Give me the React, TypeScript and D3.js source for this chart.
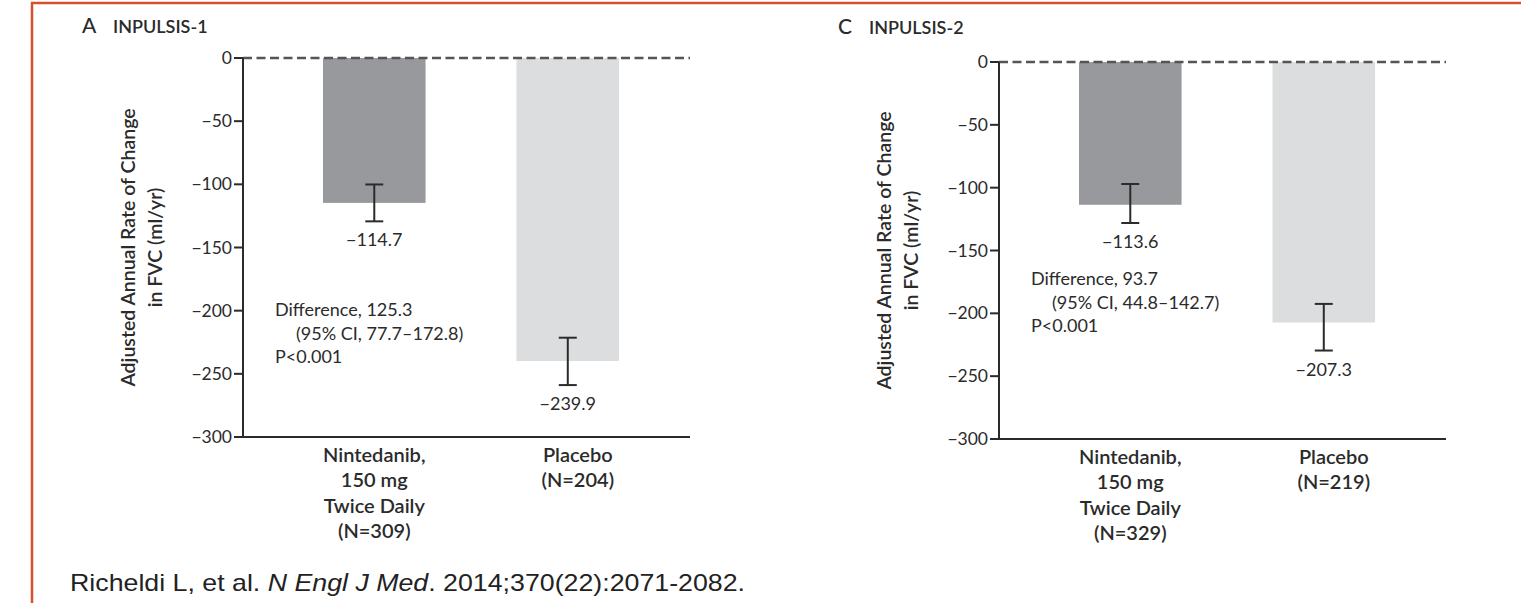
import * as d3 from "d3";

// ---- data ----
const categories = ["Nintedanib", "Placebo"];
const yTicks = [0, -50, -100, -150, -200, -250, -300];

const labels1 = [["Nintedanib,", "150 mg", "Twice Daily", "(N=309)"], ["Placebo", "(N=204)"]];
const values1 = [-114.7, -239.9];
const ciHigh1 = [-100.1, -221.4];
const ciLow1 = [-129.3, -258.9];
const diff1 = ["Difference, 125.3", "(95% CI, 77.7–172.8)", "P<0.001"];

const labels2 = [["Nintedanib,", "150 mg", "Twice Daily", "(N=329)"], ["Placebo", "(N=219)"]];
const values2 = [-113.6, -207.3];
const ciHigh2 = [-97.1, -192.5];
const ciLow2 = [-128.1, -229.6];
const diff2 = ["Difference, 93.7", "(95% CI, 44.8–142.7)", "P<0.001"];

const barColors = ["#98999c", "#dcdddf"];
const labelNudge = [0, 10];
const ink = "#2b2b2b";
const font = "Lato, 'Open Sans', sans-serif";

type PanelProps = {
  letter: string;
  title: string;
  labels: string[][];
  values: number[];
  hi: number[];
  lo: number[];
  diff: string[];
  left: number;
  top: number;
  bottom: number;
  titleY: number;
  diffAt: number;
};

function Panel({ letter, title, labels, values, hi, lo, diff, left, top, bottom, titleY, diffAt }: PanelProps) {
  const right = left + 447;
  const y = d3.scaleLinear().domain([0, -300]).range([top, bottom]);
  const x = d3.scaleBand().domain(categories).range([left, right]).paddingInner(0.47).paddingOuter(0.39).align(0.53);
  const mid = (top + bottom) / 2;

  return (
    <g fontFamily={font} fill={ink}>
      <text x={left - 161} y={titleY} fontSize={21} fontWeight={500}>{letter}</text>
      <text x={left - 130} y={titleY} fontSize={18} fontWeight={600}>{title}</text>

      <g transform={`translate(${left - 108},${mid}) rotate(-90)`} fontSize={19.5} fontWeight={600} textAnchor="middle">
        <text y={0}>Adjusted Annual Rate of Change</text>
        <text y={27}>in FVC (ml/yr)</text>
      </g>

      {categories.map((c, i) => {
        const bx = x(c)!;
        const cx = bx + x.bandwidth() / 2;
        const v = values[i];
        return (
          <g key={c}>
            <rect x={bx} y={y(0)} width={x.bandwidth()} height={y(v) - y(0)} fill={barColors[i]} />
            <line x1={cx} x2={cx} y1={y(hi[i])} y2={y(lo[i])} stroke={ink} strokeWidth={2} />
            <line x1={cx - 9} x2={cx + 9} y1={y(hi[i])} y2={y(hi[i])} stroke={ink} strokeWidth={2} />
            <line x1={cx - 9} x2={cx + 9} y1={y(lo[i])} y2={y(lo[i])} stroke={ink} strokeWidth={2} />
            <text x={cx} y={y(lo[i]) + 25} fontSize={18} textAnchor="middle">{"\u2212" + Math.abs(v).toFixed(1)}</text>
            {labels[i].map((t, j) => (
              <text key={j} x={cx + labelNudge[i]} y={bottom + 24.5 + j * 25.5} fontSize={20} fontWeight={600} textAnchor="middle">{t}</text>
            ))}
          </g>
        );
      })}

      <line x1={left} x2={right} y1={y(0)} y2={y(0)} stroke="#555" strokeWidth={2.5} strokeDasharray="9 4.5" />
      <line x1={left} x2={left} y1={top} y2={bottom} stroke={ink} strokeWidth={2} />
      <line x1={left} x2={right} y1={bottom} y2={bottom} stroke={ink} strokeWidth={2} />
      {yTicks.map((t) => (
        <g key={t}>
          <line x1={left - 9} x2={left} y1={y(t)} y2={y(t)} stroke={ink} strokeWidth={2} />
          <text x={left - 11} y={y(t)} dy="0.35em" fontSize={17.5} textAnchor="end">{t === 0 ? "0" : "\u2212" + Math.abs(t)}</text>
        </g>
      ))}

      {diff.map((t, j) => (
        <text key={j} x={left + 32 + (j === 1 ? 21 : 0)} y={y(diffAt) + j * 23.5} dy="0.35em" fontSize={18}>{t}</text>
      ))}
    </g>
  );
}

export default function App() {
  return (
    <svg width={1521} height={603} style={{ position: "absolute", left: 0, top: 0, background: "#fff" }}>
      <line x1={31} x2={1521} y1={3} y2={3} stroke="#d5502d" strokeWidth={2.5} />
      <line x1={32} x2={32} y1={2} y2={603} stroke="#d5502d" strokeWidth={2.5} />
      <Panel letter="A" title="INPULSIS-1" labels={labels1} values={values1} hi={ciHigh1} lo={ciLow1} diff={diff1}
        left={243} top={58} bottom={437} titleY={33} diffAt={-199.5} />
      <Panel letter="C" title="INPULSIS-2" labels={labels2} values={values2} hi={ciHigh2} lo={ciLow2} diff={diff2}
        left={999} top={62} bottom={439} titleY={34} diffAt={-172.6} />
      <text x={70} y={591} fontFamily="'Liberation Sans', Arial, sans-serif" fontSize={24} fill="#222"
        textLength={675} lengthAdjust="spacingAndGlyphs">
        Richeldi L, et al. <tspan fontStyle="italic">N Engl J Med</tspan>. 2014;370(22):2071-2082.
      </text>
    </svg>
  );
}
